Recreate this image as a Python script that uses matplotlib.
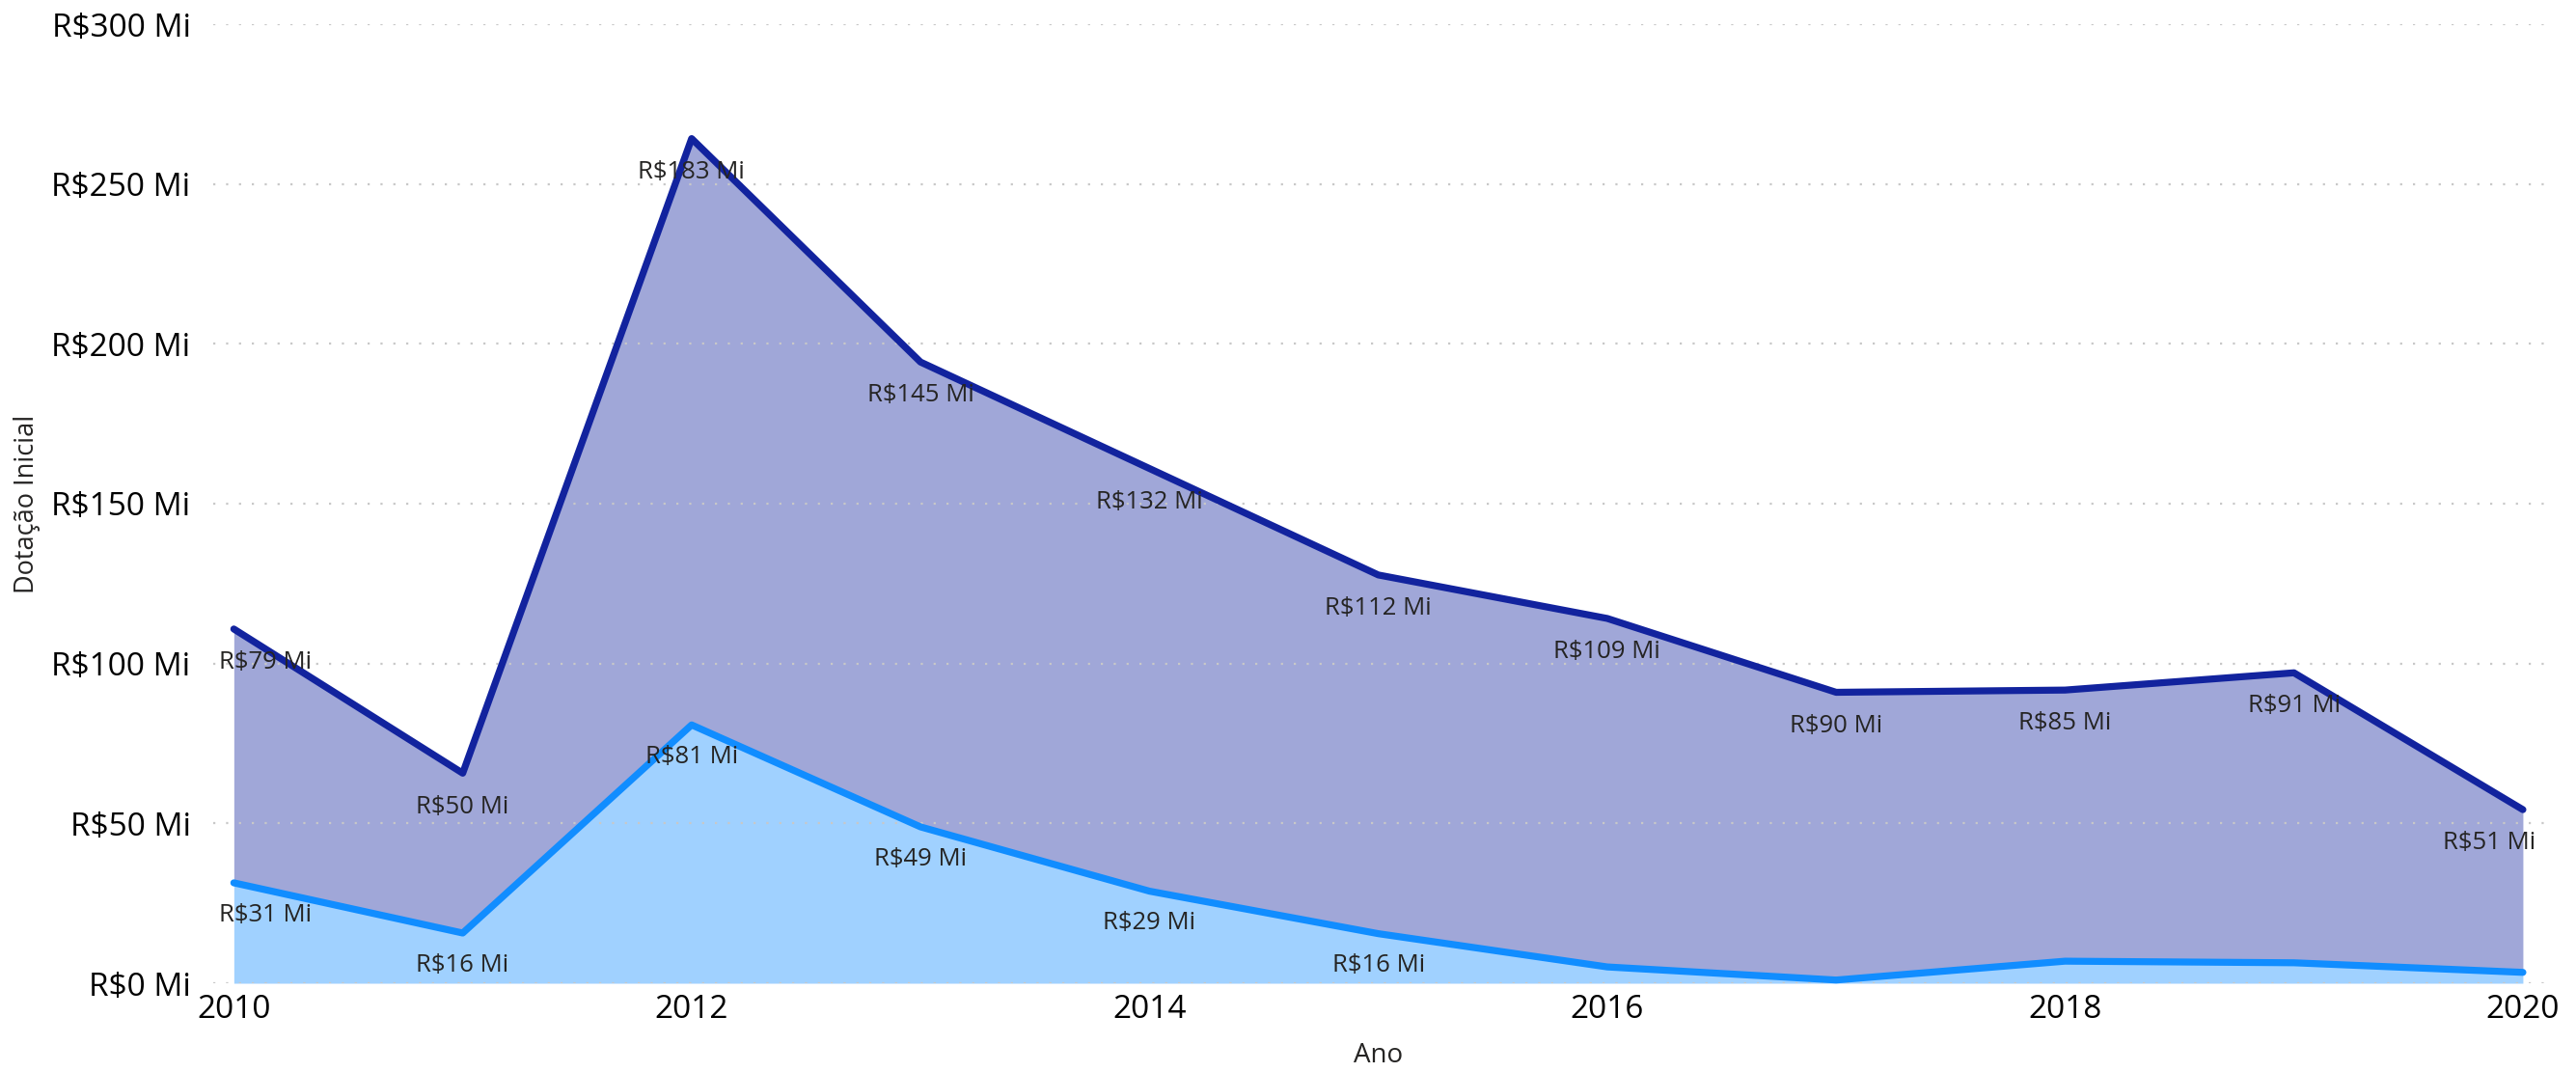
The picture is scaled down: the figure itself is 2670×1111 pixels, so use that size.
import matplotlib
matplotlib.use("Agg")
import matplotlib.pyplot as plt
import numpy as np

plt.rcParams['font.family'] = ['Open Sans', 'DejaVu Sans']

anos = [2010, 2011, 2012, 2013, 2014, 2015, 2016, 2017, 2018, 2019, 2020]
serie_inferior = [31.4, 15.7, 80.8, 48.9, 28.8, 15.5, 5.1, 1.0, 6.9, 6.4, 3.4]
serie_superior = [79.4, 50.0, 183.4, 145.4, 132.2, 112.2, 109.0, 90.0, 84.8, 90.7, 50.9]
rotulos_inferior = ["R$31 Mi", "R$16 Mi", "R$81 Mi", "R$49 Mi", "R$29 Mi", "R$16 Mi", None, None, None, None, None]
rotulos_superior = ["R$79 Mi", "R$50 Mi", "R$183 Mi", "R$145 Mi", "R$132 Mi", "R$112 Mi",
                    "R$109 Mi", "R$90 Mi", "R$85 Mi", "R$91 Mi", "R$51 Mi"]
yticks = [0, 50, 100, 150, 200, 250, 300]
ytick_labels = ["R$0 Mi", "R$50 Mi", "R$100 Mi", "R$150 Mi", "R$200 Mi", "R$250 Mi", "R$300 Mi"]
xticks = [2010, 2012, 2014, 2016, 2018, 2020]

x = np.array(anos, dtype=float)
low = np.array(serie_inferior)
top = low + np.array(serie_superior)

fig = plt.figure(figsize=(26.7, 11.11), dpi=100)
ax = fig.add_axes([221/2670, (1111-1019)/1111, (2637-221)/2670, (1019-25)/1111])

c_top = "#12239E"
c_low = "#118DFF"
ax.fill_between(x, 0, low, color="#A0D1FF", lw=0, zorder=1)
ax.fill_between(x, low, top, color="#A0A7D8", lw=0, zorder=1)
ax.plot(x, top, color=c_top, lw=5.2, solid_capstyle='round', solid_joinstyle='round', zorder=3, clip_on=False)
ax.plot(x, low, color=c_low, lw=5.2, solid_capstyle='round', solid_joinstyle='round', zorder=3, clip_on=False)

xmin, xmax = 2009.91, 2020.093
n = len(x)


def put_label(i, xi, yi, t, dy):
    if i == 0:
        ax.annotate(t, (xmin, yi), xytext=(4, dy), textcoords='offset points',
                    ha='left', va='center', fontsize=18.5, color='#252423', zorder=4)
    elif i == n - 1:
        ax.annotate(t, (xmax, yi), xytext=(-6, dy), textcoords='offset points',
                    ha='right', va='center', fontsize=18.5, color='#252423', zorder=4)
    else:
        ax.annotate(t, (xi, yi), xytext=(0, dy), textcoords='offset points',
                    ha='center', va='center', fontsize=18.5, color='#252423', zorder=4)


for i, (xi, yi, t) in enumerate(zip(x, top, rotulos_superior)):
    if t:
        put_label(i, xi, yi, t, -25)
for i, (xi, yi, t) in enumerate(zip(x, low, rotulos_inferior)):
    if t:
        put_label(i, xi, yi, t, -24)

ax.set_xlim(xmin, xmax)
ax.set_ylim(0, 300)
ax.set_yticks(yticks)
ax.set_yticklabels(ytick_labels)
ax.set_xticks(xticks)
ax.set_xticklabels([str(v) for v in xticks])
ax.tick_params(axis='both', length=0, labelsize=24, colors='#000000')
ax.tick_params(axis='y', pad=17)
ax.tick_params(axis='x', pad=8)
for s in ax.spines.values():
    s.set_visible(False)
ax.yaxis.grid(True, linestyle=(0, (1, 5)), linewidth=1.6, color='#C8C8C8', zorder=2)
ax.set_axisbelow(False)
ax.xaxis.grid(False)

ax.set_ylabel("Dotação Inicial", fontsize=19.5, color='#252423', labelpad=8)
ax.set_xlabel("Ano", fontsize=20, color='#252423', labelpad=12)

fig.savefig("out.png", dpi=100, facecolor='white')
